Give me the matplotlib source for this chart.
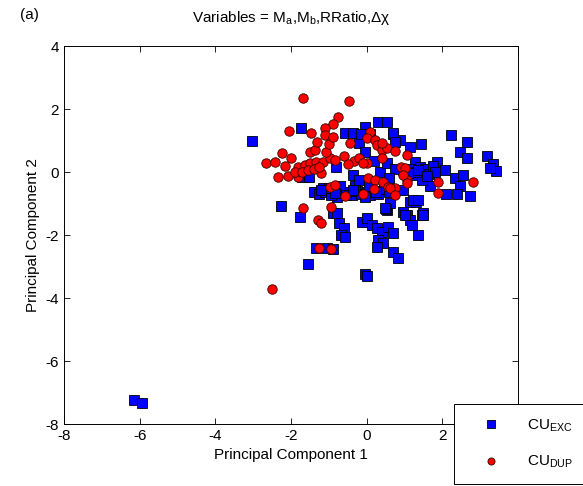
import matplotlib
matplotlib.use("Agg")
import matplotlib.pyplot as plt

plt.rcParams["font.family"] = ["Liberation Sans", "DejaVu Sans"]
plt.rcParams["mathtext.fontset"] = "custom"
plt.rcParams["mathtext.rm"] = "Liberation Sans"
plt.rcParams["mathtext.it"] = "Liberation Sans:italic"
plt.rcParams["axes.unicode_minus"] = False

# CU_EXC scores (blue squares)
exc_x = [-6.15, -5.95, -3.04, -2.27, -1.74, -1.72, -1.52, -1.76, -1.55, -1.34, -1.06, -0.89,
         -0.88, -0.79, -0.72, -0.60, -0.69, -0.56, -0.05, 0.00, -0.13, 0.00, 0.13, 0.26, 0.40,
         0.57, 0.70, 0.31, 0.44, 0.26, 0.70, 0.83, 0.53, 0.62, 0.97, 1.06, 1.14, 1.19, 1.45, 1.50,
         1.36, 1.14, 1.31, -0.04, 0.29, -0.57, -0.35, -0.20, 0.70, 0.88, 1.14, 1.44, -0.81, -1.15,
         -0.79, -0.35, 0.35, 0.51, 1.50, 0.53, 0.70, 0.75, 2.22, 2.66, 2.47, 2.66, 3.19, 3.33,
         3.43, 3.26, 1.85, 2.07, 2.33, 2.55, 2.47, 2.73, 2.11, 2.38, 1.67, 1.45, 1.50, 1.28, 1.23,
         1.36, 0.97, 0.48, 1.01, 1.50, -1.40, -1.25, -1.10, -0.95, -0.80, -0.65, -0.50, -0.40,
         -0.25, -0.15, 0.00, 0.10, 0.20, 0.30, 0.45, 0.60, -1.00, -0.70, -0.30, 0.05, 0.95, 1.05,
         1.15, 1.20, 1.30, 1.40, 1.55, 1.65, 1.75, 1.80, -0.15, 0.10, -0.05, 0.20, 0.55, 0.75,
         0.60, -0.20, -1.20, -0.85, -0.55, -0.35, -0.05, 0.25, 1.10, 1.35, 1.60]
exc_y = [-7.25, -7.33, 0.98, -1.07, 1.39, -0.17, -0.17, -1.44, -2.92, -2.40, -2.40, -2.45,
         -1.29, -1.31, -1.63, -1.79, -2.00, -2.05, -3.24, -3.30, -1.58, -1.47, -1.68, -1.79, -1.90,
         -1.74, -1.95, -2.16, -2.26, -2.37, -2.53, -2.74, -1.21, -0.99, -1.26, -1.37, -1.52, -1.68,
         -1.37, -1.31, -2.00, -0.94, -0.94, 1.42, 1.58, 1.23, 1.23, 0.93, 1.20, 1.02, 0.78, 0.89,
         0.15, -0.52, -0.78, -0.10, 0.01, -1.17, -0.15, 1.58, 1.23, 0.96, 1.17, 0.96, 0.64, 0.43,
         0.51, 0.25, 0.04, 0.12, 0.33, 0.06, -0.20, -0.10, -0.44, -0.75, -0.70, -0.70, -0.44,
         -0.25, 0.06, 0.33, -0.89, -0.89, -0.57, -1.15, -1.37, -1.37, -0.62, -0.70, -0.65, -0.72,
         -0.60, -0.68, -0.62, -0.72, -0.60, -0.70, -0.62, -0.72, -0.60, -0.70, -0.55, -0.65,
         -0.50, -0.45, -0.45, -0.45, 0.05, -0.05, 0.10, -0.10, 0.00, 0.15, 0.10, -0.05, 0.20,
         0.00, 1.20, 1.22, 0.65, 0.35, 0.30, 0.10, -0.20, -0.25, -0.58, -0.66, -0.74, -0.58,
         -0.78, -0.64, -0.02, 0.05, -0.12]

# CU_DUP scores (red circles)
dup_x = [-2.50, -1.29, -1.22, -1.68, -0.94, -1.26, -0.93, -1.69, -0.47, -0.77, -0.88, -1.10,
         -1.09, -2.05, -1.47, -2.65, -2.42, -2.25, -1.99, -2.16, -2.34, -2.07, -1.81, -1.81,
         -1.63, -1.50, -1.33, -1.15, -0.97, -0.84, -1.50, -1.37, -1.30, -1.08, -1.21, -0.44,
         -0.34, 0.00, 0.09, 0.00, 0.22, 0.26, 0.40, 0.53, 0.75, 1.06, 0.40, 0.92, 1.01, 1.06,
         0.04, 0.22, 0.44, 0.57, 0.75, -0.97, -0.84, -0.57, -0.09, 0.19, 0.40, 0.97, 1.06, 0.62,
         0.75, 1.89, 1.88, 2.82, -1.90, -1.70, -1.55, -1.40, -1.25, -1.00, -0.90, -0.60, -0.50,
         -0.20, -0.10]
dup_y = [-3.71, -1.52, -1.63, -1.15, -1.10, -2.42, -2.43, 2.34, 2.25, 1.74, 1.52, 1.39, 1.17,
         1.30, 1.23, 0.28, 0.33, 0.59, 0.43, 0.19, -0.15, -0.13, 0.17, -0.15, 0.22, 0.28, 0.33,
         0.33, 0.43, 0.38, 0.64, 0.70, 0.96, 0.64, -0.02, 0.91, 0.35, 0.30, 1.28, 1.07, 1.02,
         0.86, 0.70, 0.75, 0.67, 0.54, 0.43, 0.17, 0.12, -0.25, -0.20, -0.25, -0.31, -0.47, -0.52,
         -0.47, -0.41, -0.76, -0.70, -0.54, 0.91, -0.10, -0.36, -0.52, -0.73, -0.31, -0.68, -0.31,
         0.00, 0.00, 0.05, 0.10, 0.15, 0.90, 1.10, 0.50, 0.25, 0.45, 0.30]

fig = plt.figure(figsize=(5.83, 4.86), dpi=100)
ax = fig.add_axes([64 / 583, 1 - 424 / 486, 454 / 583, 378 / 486])

ax.plot(exc_x, exc_y, "s", color="#0000ff", markeredgecolor="k", markeredgewidth=0.6,
        markersize=7.4, linestyle="none", label=r"CU$_\mathrm{EXC}$")
ax.plot(dup_x, dup_y, "o", color="#ff0000", markeredgecolor="#300000", markeredgewidth=0.6,
        markersize=6.8, linestyle="none", label=r"CU$_\mathrm{DUP}$")

ax.set_xlim(-8, 4)
ax.set_ylim(-8, 4)
ax.set_xticks(range(-8, 5, 2))
ax.set_yticks(range(-8, 5, 2))
ax.tick_params(direction="in", top=True, right=True, length=4, width=0.6, labelsize=11)
for s in ax.spines.values():
    s.set_linewidth(0.7)

ax.set_xlabel("Principal Component 1", fontsize=11)
ax.set_ylabel("Principal Component 2", fontsize=11)
ax.set_title(r"Variables = M$_\mathrm{a}$,M$_\mathrm{b}$,RRatio,Δχ", fontsize=11, pad=17)
fig.text(20 / 583, 1 - 15 / 486, "(a)", fontsize=11, va="center", ha="left")

leg = fig.legend(loc="upper left", bbox_to_anchor=(454 / 583, 1 - 404 / 486),
                 fontsize=11, frameon=True, fancybox=False, framealpha=1, markerscale=0.75,
                 edgecolor="k", borderpad=0.9, handlelength=3.0, handletextpad=0.9,
                 labelspacing=1.3, borderaxespad=0)
leg.get_frame().set_linewidth(0.7)

fig.savefig("out.png", dpi=100)
